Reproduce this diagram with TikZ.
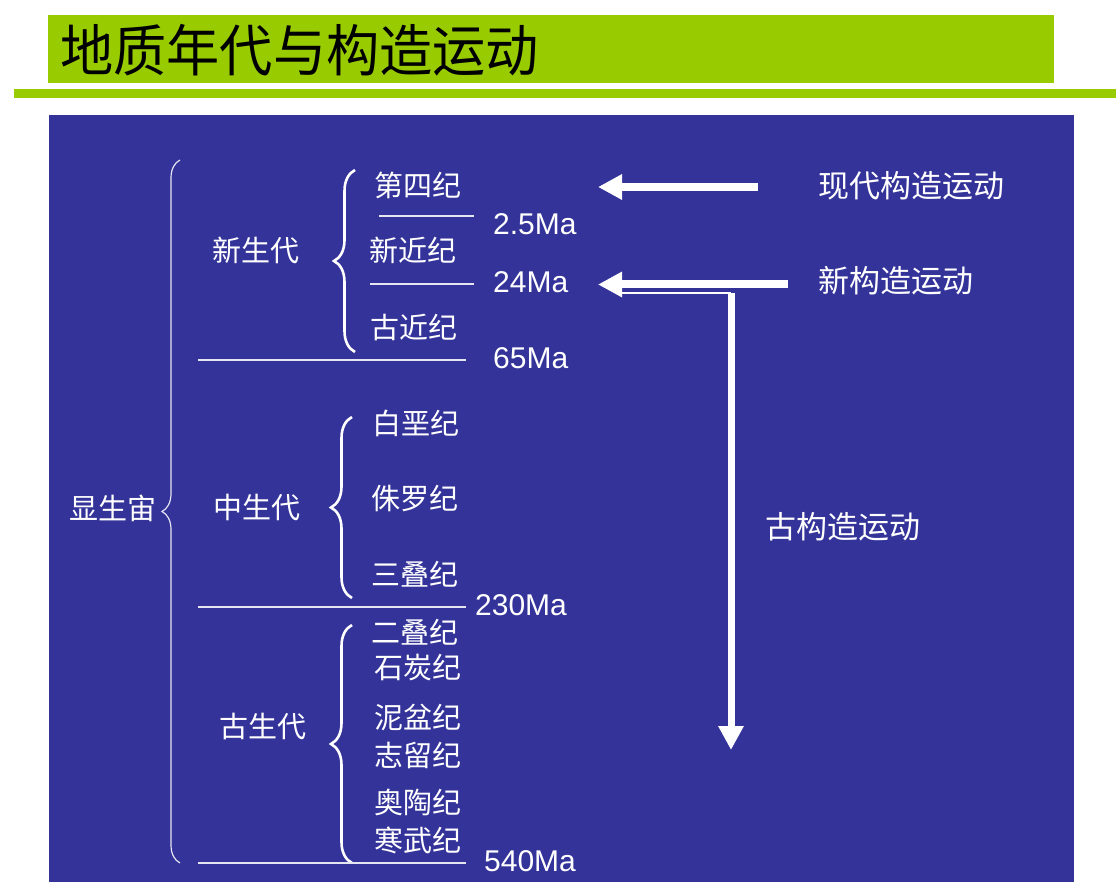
\documentclass[tikz,border=0pt]{standalone}
\usepackage{fontspec}
\setmainfont{Liberation Sans}
\newfontfamily\cjk{Noto Sans CJK SC}
\newfontfamily\cjktitle[FakeStretch=0.95]{Noto Sans CJK SC}
\usetikzlibrary{arrows.meta, decorations.pathreplacing}
\definecolor{geoGreen}{HTML}{99CC00}
\definecolor{geoBlue}{HTML}{333399}
\definecolor{geoLine}{HTML}{E6E6F2}
\tikzset{
  geofig/.style={
    x=1pt, y=-1pt,
    every node/.append style={text=white, inner sep=0pt},
  },
  titletext/.style={font=\cjktitle\fontsize{56}{62}\selectfont, text=black, anchor=west},
  eontext/.style={font=\cjk\fontsize{29}{32}\selectfont},
  eratext/.style={eontext},
  periodtext/.style={eontext},
  agetext/.style={font=\fontsize{30}{34}\selectfont, anchor=west},
  movetext/.style={font=\cjk\fontsize{31}{34}\selectfont, anchor=west},
  eonbrace/.style={draw=geoLine, line width=1.2pt, decorate, decoration={brace, amplitude=18pt}},
  erabrace/.style={draw=white, line width=2.6pt, decorate, decoration={brace, amplitude=21pt}},
  boundary/.style={draw=geoLine, line width=1.3pt},
  movearrow/.style={draw=white, line width=8pt, -{Triangle[length=24pt, width=24pt]}},
}

\begin{document}
\begin{tikzpicture}[geofig]
  \useasboundingbox (0,0) rectangle (1116,882);
  \fill[white] (0,0) rectangle (1116,882);
  % Kopfzeile
  \fill[geoGreen] (48,15) rectangle (1054,83);
  \fill[geoGreen] (14,89) rectangle (1116,98);
  \node[titletext] (Title) at (60,50) {地质年代与构造运动};
  \fill[geoBlue] (49,115) rectangle (1074,882);

  \node[eontext] (Phanerozoic) at (113,508) {显生宙};
  \node[eratext] (Cenozoic) at (256,250) {新生代};
  \node[eratext] (Mesozoic) at (257,508) {中生代};
  \node[eratext] (Paleozoic) at (263,727) {古生代};

  \node[periodtext] (Quaternary) at (418,185) {第四纪};
  \node[periodtext] (Neogene) at (413,250) {新近纪};
  \node[periodtext] (Paleogene) at (414,327) {古近纪};
  \node[periodtext] (Cretaceous) at (416,423) {白垩纪};
  \node[periodtext] (Jurassic) at (415,499) {侏罗纪};
  \node[periodtext] (Triassic) at (415,574) {三叠纪};
  \node[periodtext] (Permian) at (415,632) {二叠纪};
  \node[periodtext] (Carboniferous) at (418,668) {石炭纪};
  \node[periodtext] (Devonian) at (418,717) {泥盆纪};
  \node[periodtext] (Silurian) at (418,755) {志留纪};
  \node[periodtext] (Ordovician) at (418,802) {奥陶纪};
  \node[periodtext] (Cambrian) at (418,840) {寒武纪};

  \node[agetext] (Age2) at (493,224) {2.5Ma};
  \node[agetext] (Age24) at (493,282) {24Ma};
  \node[agetext] (Age65) at (493,358) {65Ma};
  \node[agetext] (Age230) at (475,605) {230Ma};
  \node[agetext] (Age540) at (484,861) {540Ma};

  \draw[eonbrace] (180,863) -- (180,160);
  \draw[erabrace] (355,352) -- (355,170);
  \draw[erabrace] (352,598) -- (352,417);
  \draw[erabrace] (352,863) -- (352,625);

  \draw[boundary] (379,216) -- (474,216);
  \draw[boundary] (370,284) -- (474,284);
  \draw[boundary] (198,360) -- (466,360);
  \draw[boundary] (198,607) -- (466,607);
  \draw[boundary] (198,863) -- (466,863);

  \node[movetext] (ModernMove) at (818,186) {现代构造运动};
  \node[movetext] (NeoMove) at (818,281) {新构造运动};
  \node[movetext] (PaleoMove) at (765,527) {古构造运动};

  \coordinate (modernFrom) at (758,187);
  \coordinate (modernTo) at (598,187);
  \coordinate (neoFrom) at (788,284.5);
  \coordinate (neoTo) at (598,284.5);
  \coordinate (paleoFrom) at (731,293);
  \coordinate (paleoTo) at (731,750);
  \coordinate (paleoFoot) at (620,293);
  \draw[movearrow] (modernFrom) -- (modernTo);
  \draw[movearrow] (neoFrom) -- (neoTo);
  \draw[movearrow, line width=7pt] (paleoFrom) -- (paleoTo);
  \draw[white, line width=1.5pt] (paleoFoot) -- (paleoFrom);
\end{tikzpicture}
\end{document}
